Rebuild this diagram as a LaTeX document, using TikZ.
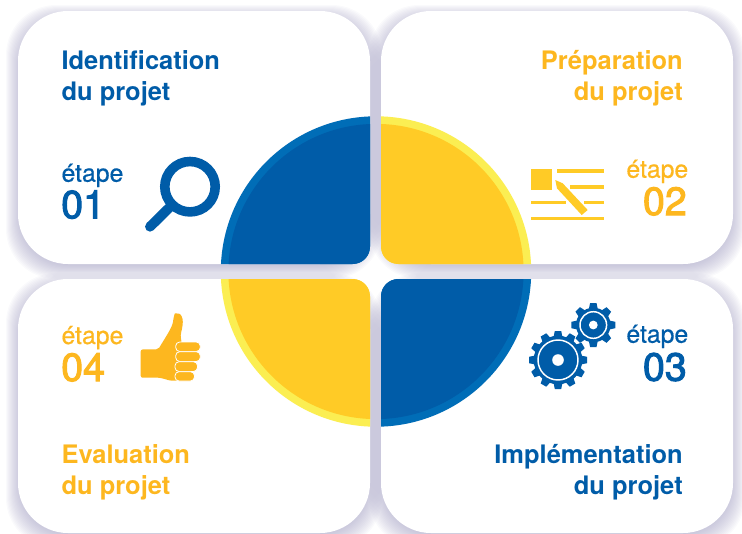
\documentclass[tikz,border=0pt]{standalone}
\usepackage{fontspec}
\setmainfont{TeX Gyre Heros}
\newfontfamily\stepfont[FakeBold=0.5]{TeX Gyre Heros}
\newfontfamily\numfont[FakeBold=2.5]{TeX Gyre Heros}
\definecolor{blueDark}{HTML}{005CA8}
\definecolor{blueRing}{HTML}{006DB7}
\definecolor{yellowFill}{HTML}{FFCB26}
\definecolor{yellowRing}{HTML}{FBEE52}
\definecolor{amberText}{HTML}{FDB71F}
\definecolor{shadowTint}{HTML}{8F8BB5}
\tikzset{
  titletext/.style={inner sep=0pt,font=\bfseries\fontsize{19.1}{22}\selectfont},
  steptext/.style={inner sep=0pt,font=\stepfont\fontsize{18.6}{22}\selectfont},
  numtext/.style={inner sep=0pt,font=\numfont\fontsize{29.5}{32}\selectfont},
  cardbox/.style={fill=white,rounded corners=37.5pt},
}
\begin{document}
\begin{tikzpicture}[x=0.75pt,y=0.75pt,yscale=-1,xscale=1]
\useasboundingbox (0,0) rectangle (742,533);
\clip (0,0) rectangle (742,533);

%Card shadows
\foreach \xa/\ya/\xb/\yb in {18/11/370/264,381/11/733/264,18/279/370/533,381/279/733/533}{
  \foreach \grow in {15,14,...,0}{
    \fill [shadowTint,opacity=0.045,rounded corners=37.5pt] (\xa+3-\grow,\ya+9-\grow) rectangle (\xb-3+\grow,\yb+\grow);
  }
}
%Cards
\foreach \xa/\ya/\xb/\yb in {18/11/370/264,381/11/733/264,18/279/370/533,381/279/733/533}{
  \path [cardbox] (\xa,\ya) rectangle (\xb,\yb);
}

%Quarter discs
\foreach \xa/\ya/\xb/\yb/\ringcol/\fillcol in {200/90/370/264/blueRing/blueDark,381/90/552/264/yellowRing/yellowFill,200/279/370/450/yellowRing/yellowFill,381/279/552/450/blueRing/blueDark}{
  \begin{scope}
    \clip [rounded corners=13pt] (\xa,\ya) rectangle (\xb,\yb);
    \fill [\ringcol] (376,271.5) circle (155.2);
    \fill [\fillcol] (376,271.5) circle (147.6);
  \end{scope}
}

%Magnifier
\draw [blueDark,line width=7.2pt] (190,186.7) circle (25.2);
\draw [blueDark,line width=7.4pt,line cap=round] (170,207) -- (150,226.7);

%Note icon
\fill [yellowFill] (531,169) rectangle (552,190);
\foreach \xa/\xb/\ya in {557/604/169,570/604/185,531/566/200.5,584/604/200.5,531/604/216.5}{
  \fill [yellowFill] (\xa,\ya) rectangle (\xb,\ya+3.7);
}
\fill [yellowFill] (555.3,180) -- (562.7,183.3) -- (587.7,210) -- (581.7,215) -- (557,188.3) -- cycle;

%Gears
\foreach \cx/\cy/\rout/\rbody/\rring/\rhole/\nteeth in {558/360/29/24.3/20/5.8/12,593.3/325/22/17.3/13.3/4.4/8}{
  \fill [blueDark] (\cx,\cy) circle (\rbody);
  \pgfmathsetmacro{\stepang}{360/\nteeth}
  \foreach \k in {1,...,\nteeth}{
    \begin{scope}[shift={(\cx,\cy)},rotate=\k*\stepang]
      \fill [blueDark] (\rbody-1,-4.4) -- (\rout,-3.2) -- (\rout,3.2) -- (\rbody-1,4.4) -- cycle;
    \end{scope}
  }
  \draw [white,line width=1.1pt] (\cx,\cy) circle (\rring);
  \fill [white] (\cx,\cy) circle (\rhole);
}

%Thumb
\fill [amberText,rounded corners=1.5pt] (140.7,349.5) -- (158.3,349.3) .. controls (165,338) and (172,328) .. (173.3,320) .. controls (174,315) and (175,313.3) .. (177,313.3) .. controls (181,314) and (183,318) .. (182.7,324) .. controls (182,330) and (180,335) .. (181.5,340) -- (181,380.7) -- (170,380.7) .. controls (165,379) and (160,377.7) .. (156,377.7) -- (140.7,377.7) -- cycle;
\foreach \xa/\ya/\xb/\yb in {175.7/342/200.3/351.5,175.7/351.7/200.3/361.5,175/361.7/197.5/371.5,175/371.7/194.5/381}{
  \draw [draw=white,fill=amberText,line width=0.6pt,rounded corners=3pt] (\xa,\ya) rectangle (\xb,\yb);
}

% Text Node
\draw (61.3,69.2) node (identTop) [anchor=base west,titletext,blueDark] {Identification};
\draw (61.3,100.6) node (identLow) [anchor=base west,titletext,blueDark] {du projet};
\draw (683,69.2) node (prepTop) [anchor=base east,titletext,amberText] {Préparation};
\draw (683,100.6) node (prepLow) [anchor=base east,titletext,amberText] {du projet};
\draw (61.3,463.3) node (evalTop) [anchor=base west,titletext,amberText] {Evaluation};
\draw (61.3,494.9) node (evalLow) [anchor=base west,titletext,amberText] {du projet};
\draw (683,463.3) node (implTop) [anchor=base east,titletext,blueDark] {Implémentation};
\draw (683,494.9) node (implLow) [anchor=base east,titletext,blueDark] {du projet};
% Text Node
\draw (61.3,181.7) node (stepOne) [anchor=base west,steptext,blueDark] {étape};
\draw (61,218.3) node (numOne) [anchor=base west,numtext,blueDark] {01};
\draw (688.5,177.7) node (stepTwo) [anchor=base east,steptext,amberText] {étape};
\draw (687,215) node (numTwo) [anchor=base east,numtext,amberText] {02};
\draw (688.5,342.7) node (stepThree) [anchor=base east,steptext,blueDark] {étape};
\draw (687,380.7) node (numThree) [anchor=base east,numtext,blueDark] {03};
\draw (61.3,344) node (stepFour) [anchor=base west,steptext,amberText] {étape};
\draw (61,381) node (numFour) [anchor=base west,numtext,amberText] {04};

\end{tikzpicture}
\end{document}
